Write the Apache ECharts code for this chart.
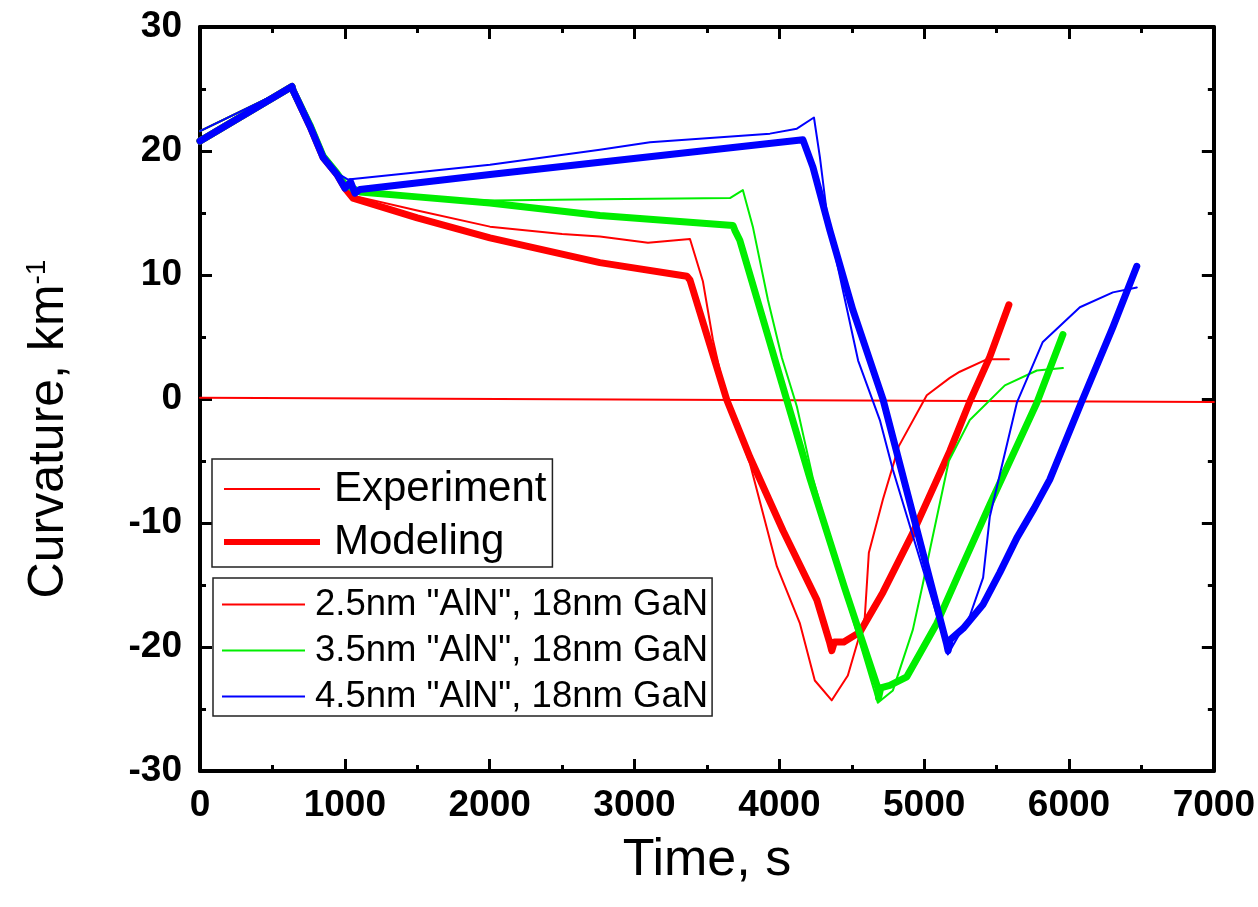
<!DOCTYPE html>
<html><head><meta charset="utf-8">
<script src="https://cdn.jsdelivr.net/npm/echarts@6/dist/echarts.min.js"></script>
<style>html,body{margin:0;padding:0;background:#fff}#c{width:1258px;height:907px}</style>
</head><body><div id="c"></div>
<script>
// ---- data (time in s, curvature in km^-1) ----
const xAxisRange = [0, 7000];
const yAxisRange = [-30, 30];
const zeroLine = [[0, 0.1], [7000, -0.25]];

const exp25 = [[0,21.6],[635,25.2],[760,22.2],[850,19.8],[950,18.2],[1010,17.2],[1056,16.4],[1500,15.2],[2002,13.9],[2500,13.3],[2761,13.1],[3093,12.6],[3383,12.9],[3472,9.5],[3541,4.8],[3638,-0.2],[3797,-5.2],[3983,-13.5],[4142,-18.1],[4245,-22.7],[4362,-24.3],[4473,-22.3],[4590,-17.6],[4618,-12.4],[4715,-8.1],[4825,-3.8],[5018,0.3],[5177,1.7],[5246,2.2],[5432,3.2],[5585,3.2]];
const mod25 = [[0,20.8],[635,25.2],[642,24.9],[759,22.0],[849,19.5],[946,18.1],[1001,17.0],[1056,16.2],[1500,14.6],[2002,13.0],[2761,11.0],[3362,9.9],[3383,9.6],[3638,-0.1],[3797,-4.7],[4025,-10.6],[4259,-16.2],[4349,-19.7],[4362,-20.3],[4380,-19.6],[4445,-19.6],[4556,-18.8],[4715,-15.6],[4922,-10.8],[5177,-4.2],[5315,-0.2],[5453,3.4],[5585,7.6]];
const exp35 = [[0,21.6],[635,25.2],[760,22.2],[850,19.8],[950,18.2],[1010,17.2],[1060,16.6],[1500,16.3],[2002,16.0],[2761,16.1],[3659,16.2],[3748,16.85],[3817,13.9],[3921,8.0],[4018,3.3],[4121,-0.6],[4232,-6.4],[4450,-15.5],[4680,-24.5],[4784,-23.5],[4922,-18.6],[4991,-14.9],[5039,-12.2],[5170,-5.0],[5315,-1.7],[5557,1.1],[5778,2.3],[5958,2.5]];
const mod35 = [[0,20.8],[635,25.2],[642,24.9],[759,22.1],[849,19.6],[946,18.2],[1001,17.3],[1104,16.7],[1500,16.3],[2002,15.8],[2761,14.8],[3680,14.0],[3693,13.6],[3727,12.8],[4052,-0.1],[4211,-6.4],[4450,-15.2],[4680,-23.3],[4685,-24.1],[4700,-23.3],[4763,-23.1],[4880,-22.4],[5087,-18.1],[5250,-13.8],[5450,-8.6],[5640,-3.8],[5778,-0.3],[5958,5.2]];
const exp45 = [[0,21.6],[635,25.2],[760,22.2],[850,19.8],[950,18.2],[1022,17.7],[2002,18.9],[2761,20.1],[3107,20.7],[3935,21.4],[4121,21.8],[4239,22.7],[4280,19.5],[4326,15.2],[4349,13.6],[4544,3.1],[4694,-1.7],[4784,-5.7],[5154,-20.0],[5163,-20.6],[5315,-17.5],[5407,-14.4],[5453,-9.5],[5640,-0.3],[5819,4.6],[6075,7.4],[6303,8.6],[6468,9.0]];
const mod45 = [[0,20.8],[635,25.2],[642,24.9],[759,22.0],[849,19.5],[946,18.1],[1001,17.0],[1040,17.5],[1070,16.6],[1104,16.9],[2002,18.1],[2761,19.1],[4163,20.9],[4232,18.7],[4349,13.6],[4507,7.2],[4715,0.0],[5154,-19.7],[5165,-20.3],[5180,-19.4],[5269,-18.5],[5405,-16.6],[5522,-14.0],[5640,-11.2],[5760,-8.8],[5867,-6.5],[6088,-0.2],[6303,5.8],[6468,10.7]];

const names = ['2.5nm "AlN", 18nm GaN', '3.5nm "AlN", 18nm GaN', '4.5nm "AlN", 18nm GaN'];
const colors = ['#ff0000', '#00ee00', '#0000ff'];

const FONT = '"Liberation Sans", Arial, sans-serif';
const thin = 2, thick = 7;
const thinIcon = 'path://M0,0M0,20M0,9h96v2h-96z';
const thickIcon = 'path://M0,0M0,20M0,7h96v6h-96z';
const thinIcon2 = 'path://M0,0M0,20M0,9h83v2h-83z';

function line(name, data, color, width, z) {
  return { name, type: 'line', data, symbol: 'none', showSymbol: false, z,
    lineStyle: { color, width, join: 'round', cap: 'round' }, itemStyle: { color },
    emphasis: { disabled: true }, animation: false };
}

const axisCommon = {
  type: 'value',
  axisLine: { show: true, onZero: false, lineStyle: { color: '#000', width: 4 } },
  axisTick: { show: true, inside: true, length: 12, lineStyle: { color: '#000', width: 3 } },
  minorTick: { show: true, splitNumber: 2, length: 6, lineStyle: { color: '#000', width: 3 } },
  splitLine: { show: false }
};

const option = {
  backgroundColor: '#fff',
  animation: false,
  grid: { left: 200, right: 44, top: 27, bottom: 136, containLabel: false },
  xAxis: [
    Object.assign({}, axisCommon, { position: 'bottom', min: xAxisRange[0], max: xAxisRange[1], interval: 1000,
      axisLabel: { margin: 16, fontFamily: FONT, fontWeight: 'bold', fontSize: 37, color: '#000', formatter: v => String(v) },
      name: 'Time, s', nameLocation: 'middle', nameGap: 64,
      nameTextStyle: { fontFamily: FONT, fontSize: 52, color: '#000' } }),
    Object.assign({}, axisCommon, { position: 'top', min: xAxisRange[0], max: xAxisRange[1], interval: 1000,
      axisLabel: { show: false } })
  ],
  yAxis: [
    Object.assign({}, axisCommon, { position: 'left', min: yAxisRange[0], max: yAxisRange[1], interval: 10,
      axisLabel: { margin: 18, fontFamily: FONT, fontWeight: 'bold', fontSize: 37, color: '#000', formatter: v => String(v) },
      name: 'Curvature, km{sup|-1}', nameLocation: 'middle', nameGap: 125, nameRotate: 90,
      nameTextStyle: { fontFamily: FONT, fontSize: 50, color: '#000', padding: [0, 60, 0, 0],
        rich: { sup: { fontFamily: FONT, fontSize: 28, color: '#000', verticalAlign: 'top', padding: [0, 0, 24, 0] } } } }),
    Object.assign({}, axisCommon, { position: 'right', min: yAxisRange[0], max: yAxisRange[1], interval: 10,
      axisLabel: { show: false } })
  ],
  legend: [
    { data: [{ name: 'Experiment', icon: thinIcon }, { name: 'Modeling', icon: thickIcon }],
      orient: 'vertical', left: 212, top: 459,
      itemWidth: 96, itemHeight: 20, itemGap: 5,
      padding: [6, 6, 1, 12], borderColor: '#222', borderWidth: 1.5, backgroundColor: '#fff',
      textStyle: { fontFamily: FONT, fontSize: 42, color: '#000', lineHeight: 48, padding: [0, 0, 0, 9] },
      selectedMode: false },
    { data: names.map(n => ({ name: n, icon: thinIcon2 })), orient: 'vertical', left: 213, top: 578,
      itemWidth: 83, itemHeight: 20, itemGap: 9,
      padding: [8, 4, 1, 9], borderColor: '#222', borderWidth: 1.5, backgroundColor: '#fff',
      textStyle: { fontFamily: FONT, fontSize: 36.5, color: '#000', lineHeight: 36, padding: [0, 0, 0, 5] },
      selectedMode: false }
  ],
  series: [
    line('zero', zeroLine, colors[0], thin, 1),
    line(names[0], exp25, colors[0], thin, 2),
    line('mod25', mod25, colors[0], thick, 3),
    line(names[1], exp35, colors[1], thin, 4),
    line('mod35', mod35, colors[1], thick, 5),
    line(names[2], exp45, colors[2], thin, 6),
    line('mod45', mod45, colors[2], thick, 7),
    line('Experiment', [], colors[0], thin, 0),
    line('Modeling', [], colors[0], thick, 0)
  ]
};
const chart = echarts.init(document.getElementById('c'));
chart.setOption(option);
</script>
</body></html>
